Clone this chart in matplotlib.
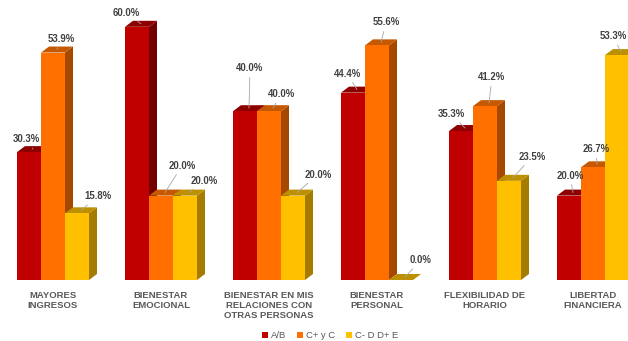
import numpy as np
import matplotlib
matplotlib.use('Agg')
import matplotlib.pyplot as plt
from matplotlib.patches import Rectangle, Polygon
from matplotlib.transforms import blended_transform_factory

plt.rcParams['font.family'] = ['Liberation Sans', 'DejaVu Sans']

categories = ['MAYORES\nINGRESOS', 'BIENESTAR\nEMOCIONAL',
              'BIENESTAR EN MIS\nRELACIONES CON\nOTRAS PERSONAS',
              'BIENESTAR\nPERSONAL', 'FLEXIBILIDAD DE\nHORARIO',
              'LIBERTAD\nFINANCIERA']
series_names = ['A/B', 'C+ y C', 'C- D D+ E']
ab = [30.3, 60.0, 40.0, 44.4, 35.3, 20.0]
cc = [53.9, 20.0, 40.0, 55.6, 41.2, 26.7]
cd = [15.8, 20.0, 20.0, 0.0, 23.5, 53.3]
values = [ab, cc, cd]

# front / side / top colours per series
front = ['#C00000', '#FF7000', '#FFC000']
side = ['#720000', '#A64800', '#A67C00']
top = ['#8E0000', '#C55800', '#BC9000']

# label offsets in pixels (dx, dy) from the bar top
lab_off = [
    [(-7, 10), (-15, 11), (1, 40), (-10, 16), (-14, 14), (-3, 17)],
    [(4, 11), (17, 27), (8, 14), (5, 20), (3, 26), (-1, 15)],
    [(17, 14), (15, 12), (21, 18), (16, 17), (19, 21), (-8, 16)],
]

W, H = 628, 341
fig = plt.figure(figsize=(W / 100, H / 100), dpi=100)
base_px = 280
px_per_pct = 4.22
ax = fig.add_axes([0, (H - base_px) / H, 1, base_px / H])
ax.set_xlim(-53 / 108, (W - 53) / 108)
ax.set_ylim(0, base_px / px_per_pct)
ax.axis('off')

w = 24 / 108
dx = 8 / 108
dy = 6 / px_per_pct

for i in range(len(categories)):
    for s in range(3):
        h = values[s][i]
        x0 = i + (s - 1.5) * w
        sd = Polygon([(x0 + w, 0), (x0 + w + dx, dy), (x0 + w + dx, h + dy), (x0 + w, h)],
                     closed=True, facecolor=side[s], edgecolor='none', clip_on=False)
        tp = Polygon([(x0, h), (x0 + dx, h + dy), (x0 + w + dx, h + dy), (x0 + w, h)],
                     closed=True, facecolor=top[s], edgecolor='none', clip_on=False)
        fr = Rectangle((x0, 0), w, h, facecolor=front[s], edgecolor='none', clip_on=False)
        ax.add_patch(sd)
        ax.add_patch(tp)
        ax.add_patch(fr)
        ox, oy = lab_off[s][i]
        ax.annotate('%.1f%%' % h, xy=(x0 + w / 2 + dx / 2, h + dy / 2),
                    xytext=(ox, oy), textcoords='offset pixels',
                    ha='center', va='center', fontsize=6.9, fontweight='bold',
                    color='#404040', annotation_clip=False,
                    arrowprops=dict(arrowstyle='-', color='#a6a6a6', lw=0.6,
                                    shrinkA=1, shrinkB=0))

trans = blended_transform_factory(ax.transData, fig.transFigure)
for i, c in enumerate(categories):
    fig.text(i, (H - 291) / H, c, transform=trans, ha='center', va='top',
             fontsize=6.8, fontweight='bold', color='#595959', linespacing=1.15)

handles = [Rectangle((0, 0), 1, 1, facecolor=front[s]) for s in range(3)]
fig.legend(handles, series_names, loc='center', bbox_to_anchor=(330 / W, (H - 336) / H),
           ncol=3, frameon=False, fontsize=6.8, handlelength=0.6, handleheight=0.6,
           handletextpad=0.3, columnspacing=1.2, labelcolor='#595959')

fig.savefig('out.png', dpi=100, facecolor='white')
